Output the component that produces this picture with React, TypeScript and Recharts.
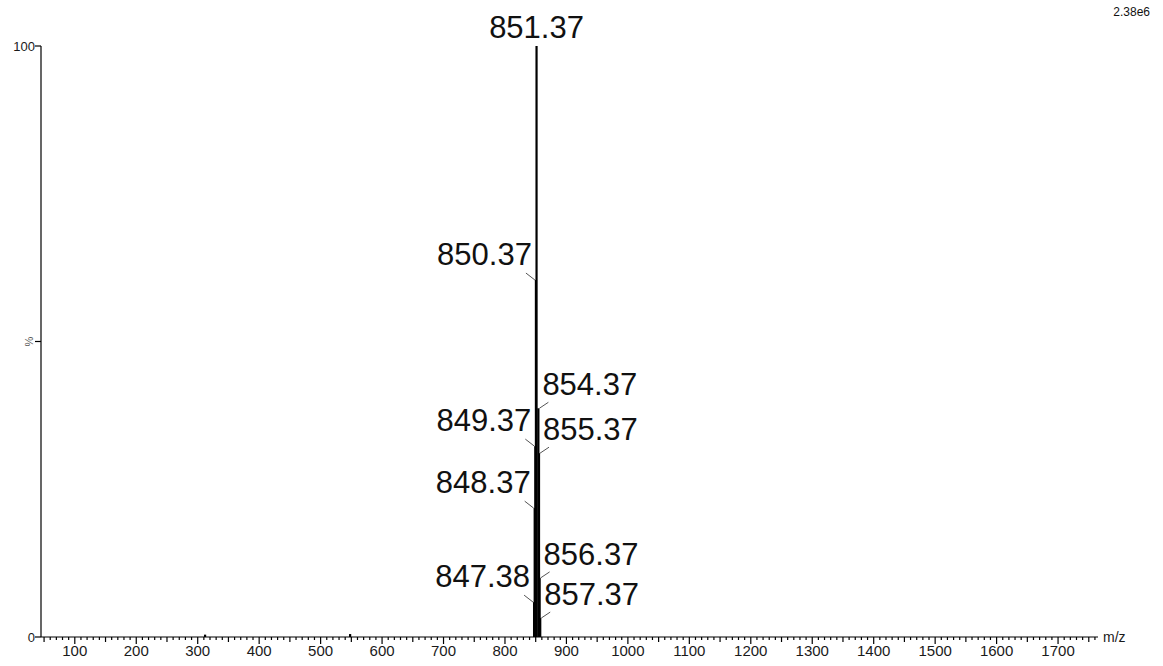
import { Bar, BarChart, LabelList, XAxis, YAxis } from "recharts";

// m/z of each stick and its relative intensity (%)
const mzValues = [312, 548, 847.38, 848.37, 849.37, 850.37, 851.37, 854.37, 855.37, 856.37, 857.37];
const intensities = [0.4, 0.5, 5.9, 21.8, 32.3, 60.4, 100, 38.7, 31.1, 10.0, 3.2];
const peakLabels = ["", "", "847.38", "848.37", "849.37", "850.37", "851.37", "854.37", "855.37", "856.37", "857.37"];

const xLabelTicks = [100, 200, 300, 400, 500, 600, 700, 800, 900, 1000, 1100, 1200, 1300, 1400, 1500, 1600, 1700];
const yTicks = [0, 50, 100];
const scaleText = "2.38e6";
const xUnit = "m/z";

const xMin = 45;
const xMax = 1765;
const minorTicks: number[] = [];
for (let v = 50; v <= 1760; v += 10) minorTicks.push(v);

const data = mzValues.map((mz, i) => ({ mz, pct: intensities[i], label: peakLabels[i] }));
const basePeak = data.reduce((a, b) => (b.pct > a.pct ? b : a));

const FONT = "'Liberation Sans', Arial, sans-serif";
const STICK = 2.2;

function XTick(props: any) {
  const { x, y, payload } = props;
  const v = payload.value;
  const len = v % 100 === 0 ? 7 : v % 50 === 0 ? 5 : 3;
  const showLabel = xLabelTicks.includes(v);
  return (
    <g>
      <line x1={x} x2={x} y1={y} y2={y + len} stroke="#000" strokeWidth={1.2} />
      {showLabel && (
        <text x={x} y={y + 19} textAnchor="middle" fontSize={15} fill="#1a1a1a" fontFamily={FONT}>
          {v}
        </text>
      )}
    </g>
  );
}

function YTick(props: any) {
  const { x, y, payload } = props;
  const v = payload.value;
  return (
    <g>
      <line x1={x - 6} x2={x} y1={y} y2={y} stroke="#000" strokeWidth={1.2} />
      {v === 50 ? (
        <text x={x - 12} y={y + 4} textAnchor="middle" fontSize={11} fill="#555" fontFamily={FONT}
          transform={`rotate(-90 ${x - 12} ${y})`}>
          %
        </text>
      ) : (
        <text x={x - 6} y={y + 5} textAnchor="end" fontSize={13} fill="#1a1a1a" fontFamily={FONT}>
          {v}
        </text>
      )}
    </g>
  );
}

function Stick(props: any) {
  const { x, y, width, height } = props;
  const cx = x + width / 2;
  return <rect x={cx - STICK / 2} y={y} width={STICK} height={Math.max(height, 0)} fill="#000" />;
}

function PeakLabel(props: any) {
  const { x, y, width, value, index } = props;
  if (!value) return null;
  const cx = x + width / 2;
  const mz = data[index].mz;
  if (mz === basePeak.mz) {
    return (
      <text x={cx} y={y - 8} textAnchor="middle" fontSize={31} fill="#111" fontFamily={FONT}>
        {value}
      </text>
    );
  }
  if (mz < basePeak.mz) {
    return (
      <g>
        <line x1={cx - 10} y1={y - 7} x2={cx - 1} y2={y} stroke="#555" strokeWidth={1} />
        <text x={cx - 4} y={y - 15} textAnchor="end" fontSize={31} fill="#111" fontFamily={FONT}>
          {value}
        </text>
      </g>
    );
  }
  return (
    <g>
      <line x1={cx + 1} y1={y} x2={cx + 10} y2={y - 6} stroke="#555" strokeWidth={1} />
      <text x={cx + 4} y={y - 13} textAnchor="start" fontSize={31} fill="#111" fontFamily={FONT}>
        {value}
      </text>
    </g>
  );
}

export default function App() {
  return (
    <div style={{ position: "absolute", left: 0, top: 0, width: 1163, height: 666, background: "#fff" }}>
      <BarChart
        width={1163}
        height={666}
        data={data}
        margin={{ top: 46, right: 65, left: 0, bottom: 0 }}
        barGap={0}
      >
        <XAxis
          type="number"
          dataKey="mz"
          domain={[xMin, xMax]}
          ticks={minorTicks}
          interval={0}
          tick={<XTick />}
          tickLine={false}
          tickSize={0}
          tickMargin={0}
          axisLine={{ stroke: "#000", strokeWidth: 1.2 }}
          height={29}
          allowDataOverflow
        />
        <YAxis
          type="number"
          domain={[0, 100]}
          ticks={yTicks}
          interval={0}
          tick={<YTick />}
          tickLine={false}
          tickSize={0}
          tickMargin={0}
          axisLine={{ stroke: "#000", strokeWidth: 1.2 }}
          width={41}
        />
        <Bar dataKey="pct" fill="#000" shape={<Stick />} isAnimationActive={false}>
          <LabelList dataKey="label" content={<PeakLabel />} />
        </Bar>
        <text x={1150} y={16} textAnchor="end" fontSize={12} fill="#111" fontFamily={FONT}>
          {scaleText}
        </text>
        <text x={1103} y={642} textAnchor="start" fontSize={14} fill="#1a1a1a" fontFamily={FONT}>
          {xUnit}
        </text>
      </BarChart>
    </div>
  );
}
